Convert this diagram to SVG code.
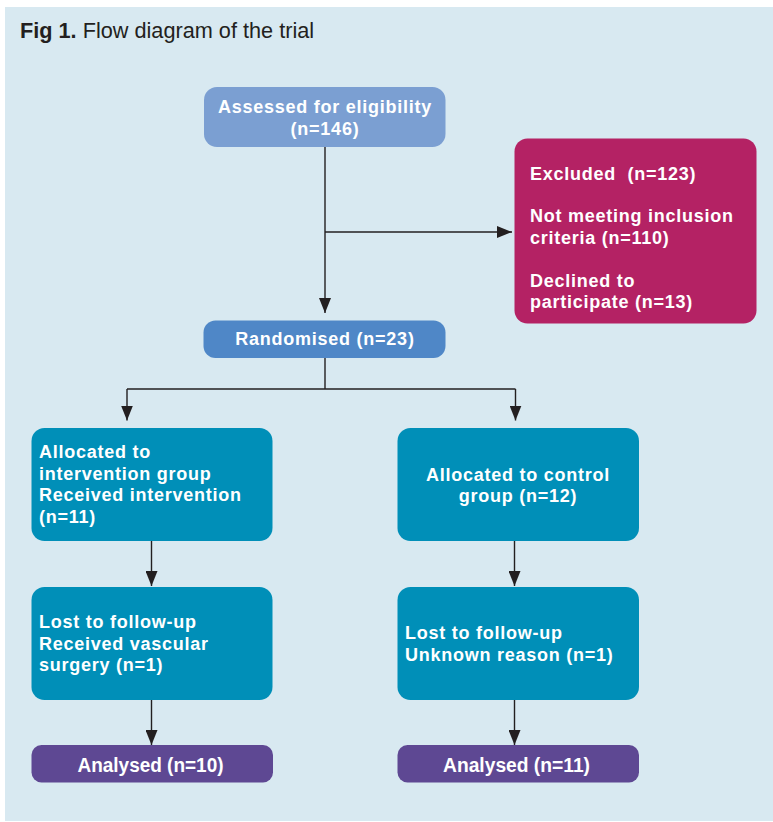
<svg xmlns="http://www.w3.org/2000/svg" width="773" height="822" viewBox="0 0 773 822">
<defs>
<style>
.t{font-family:"Liberation Sans",Arial,sans-serif;font-weight:bold;font-size:18px;fill:#ffffff;letter-spacing:0.75px}
.m{text-anchor:middle}
.an{font-family:"Liberation Sans",Arial,sans-serif;font-weight:bold;font-size:20px;fill:#ffffff;text-anchor:middle}
.c{fill:none;stroke:#231f20;stroke-width:1.4}
</style>
<marker id="ah" viewBox="0 0 15 12" refX="15" refY="6" markerWidth="15" markerHeight="12" markerUnits="userSpaceOnUse" orient="auto">
<path d="M0,0 L15,6 L0,12 z" fill="#231f20"/>
</marker>
</defs>
<rect x="0" y="0" width="773" height="822" fill="#ffffff"/>
<rect x="5" y="7" width="768" height="814" fill="#d8e9f1"/>
<text x="20" y="38" font-family="Liberation Sans,Arial,sans-serif" font-size="21.7" fill="#231f20"><tspan font-weight="bold">Fig 1.</tspan> Flow diagram of the trial</text>

<g id="connectors">
<path class="c" d="M325,147 V313" marker-end="url(#ah)"/>
<path class="c" d="M325,232 H512" marker-end="url(#ah)"/>
<path class="c" d="M325,358 V389"/>
<path class="c" d="M127,389 H515.5"/>
<path class="c" d="M127,389 V420.5" marker-end="url(#ah)"/>
<path class="c" d="M515.5,389 V420.5" marker-end="url(#ah)"/>
<path class="c" d="M151.5,541 V586" marker-end="url(#ah)"/>
<path class="c" d="M514.5,541 V586" marker-end="url(#ah)"/>
<path class="c" d="M151.5,700 V745" marker-end="url(#ah)"/>
<path class="c" d="M514.5,700 V745" marker-end="url(#ah)"/>
</g>

<g id="assessed">
<rect x="204" y="87" width="241.5" height="60" rx="13" fill="#7b9fd2"/>
<text class="t m" x="325" y="113">Assessed for eligibility</text>
<text class="t m" x="325" y="135">(n=146)</text>
</g>

<g id="excluded">
<rect x="514.5" y="138.5" width="242" height="185" rx="13" fill="#b42264"/>
<text class="t" x="530" y="180" xml:space="preserve">Excluded  (n=123)</text>
<text class="t" x="530" y="222">Not meeting inclusion</text>
<text class="t" x="530" y="244">criteria (n=110)</text>
<text class="t" x="530" y="287">Declined to</text>
<text class="t" x="530" y="308">participate (n=13)</text>
</g>

<g id="randomised">
<rect x="203.5" y="320.5" width="242" height="37.5" rx="12" fill="#4f87c7"/>
<text class="t m" x="325" y="345">Randomised (n=23)</text>
</g>

<g id="alloc-intervention">
<rect x="31.5" y="428" width="241" height="113" rx="13" fill="#008fb8"/>
<text class="t" x="39" y="458">Allocated to</text>
<text class="t" x="39" y="480">intervention group</text>
<text class="t" x="39" y="501">Received intervention</text>
<text class="t" x="39" y="523">(n=11)</text>
</g>

<g id="alloc-control">
<rect x="397.5" y="428" width="241.5" height="113" rx="13" fill="#008fb8"/>
<text class="t m" x="518" y="481">Allocated to control</text>
<text class="t m" x="518" y="502">group (n=12)</text>
</g>

<g id="lost-intervention">
<rect x="31.5" y="587" width="241" height="113" rx="13" fill="#008fb8"/>
<text class="t" x="39" y="628">Lost to follow-up</text>
<text class="t" x="39" y="650">Received vascular</text>
<text class="t" x="39" y="671">surgery (n=1)</text>
</g>

<g id="lost-control">
<rect x="397.5" y="587" width="241.5" height="113" rx="13" fill="#008fb8"/>
<text class="t" x="405" y="639">Lost to follow-up</text>
<text class="t" x="405" y="661">Unknown reason (n=1)</text>
</g>

<g id="analysed-intervention">
<rect x="31.5" y="745" width="241.5" height="37.5" rx="10" fill="#5e4893"/>
<text class="an" x="150.5" y="772" textLength="146" lengthAdjust="spacingAndGlyphs">Analysed (n=10)</text>
</g>

<g id="analysed-control">
<rect x="397.5" y="745" width="241.5" height="37.5" rx="10" fill="#5e4893"/>
<text class="an" x="516.5" y="772" textLength="147" lengthAdjust="spacingAndGlyphs">Analysed (n=11)</text>
</g>
</svg>
